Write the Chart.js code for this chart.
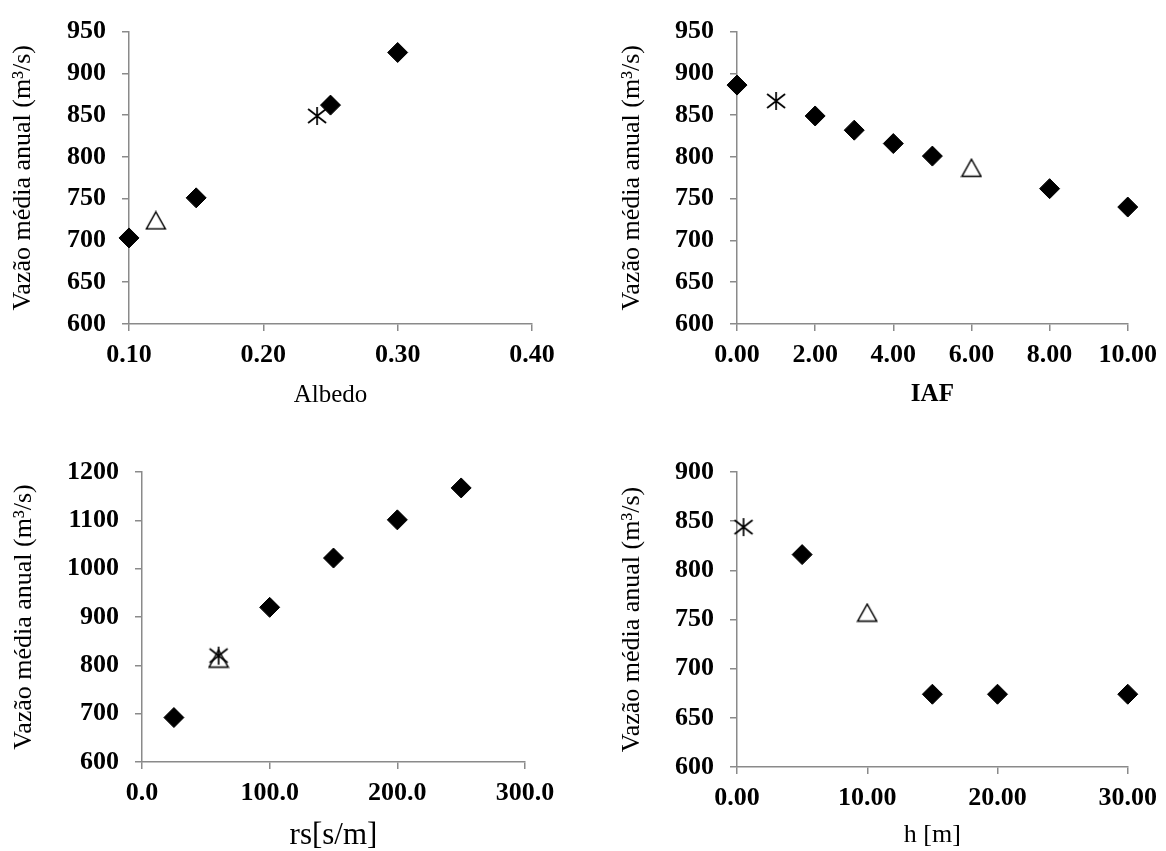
<!DOCTYPE html>
<html lang="pt">
<head>
  <meta charset="UTF-8">
  <title>Vazão média anual - sensibilidade dos parâmetros</title>
  <script src="https://cdn.jsdelivr.net/npm/chart.js@4.4.1/dist/chart.umd.min.js"></script>
  <style>
    body { margin: 0; padding: 0; overflow: hidden; background: #fff; }
    .cell { position: absolute; width: 583px; }
  </style>
</head>
<body>

  <div class="cell" style="left:0; top:0; height:425px;"><canvas id="albedo" width="583" height="425"></canvas></div>
  <div class="cell" style="left:583px; top:0; height:425px;"><canvas id="iaf" width="583" height="425"></canvas></div>
  <div class="cell" style="left:0; top:425px; height:426px;"><canvas id="rs" width="583" height="426"></canvas></div>
  <div class="cell" style="left:583px; top:425px; height:426px;"><canvas id="h" width="583" height="426"></canvas></div>

  <script>
    const FONT = "'Liberation Serif', 'Times New Roman', serif";
    const AXIS = '#8a8a8a';
    const yTitle = 'Vazão média anual (m³/s)';

    // Albedo
    const albedoX = [0.10, 0.15, 0.25, 0.30];
    const albedoY = [703, 751, 862, 925];
    const albedoStarX = [0.24];
    const albedoStarY = [849];
    const albedoTriX = [0.12];
    const albedoTriY = [724];
    const albedoTicksX = [0.10, 0.20, 0.30, 0.40];
    const albedoTicksY = [600, 650, 700, 750, 800, 850, 900, 950];

    // IAF
    const iafX = [0, 2, 3, 4, 5, 8, 10];
    const iafY = [886, 849, 832, 816, 801, 762, 740];
    const iafStarX = [1];
    const iafStarY = [867];
    const iafTriX = [6];
    const iafTriY = [787];
    const iafTicksX = [0, 2, 4, 6, 8, 10];
    const iafTicksY = [600, 650, 700, 750, 800, 850, 900, 950];

    // rs
    const rsX = [25, 100, 150, 200, 250];
    const rsY = [692, 920, 1022, 1101, 1167];
    const rsStarX = [60];
    const rsStarY = [820];
    const rsTriX = [60];
    const rsTriY = [814];
    const rsTicksX = [0, 100, 200, 300];
    const rsTicksY = [600, 700, 800, 900, 1000, 1100, 1200];

    // h
    const hX = [5, 15, 20, 30];
    const hY = [816, 674, 674, 674];
    const hStarX = [0.5];
    const hStarY = [844];
    const hTriX = [10];
    const hTriY = [757];
    const hTicksX = [0, 10, 20, 30];
    const hTicksY = [600, 650, 700, 750, 800, 850, 900];

    function pts(xs, ys) {
      return xs.map((x, i) => ({ x: x, y: ys[i] }));
    }

    // asterisk marker: X with a vertical bar
    function asterisk() {
      const c = document.createElement('canvas');
      c.width = 22; c.height = 20;
      const g = c.getContext('2d');
      g.strokeStyle = '#000';
      g.lineWidth = 1.7;
      g.beginPath();
      g.moveTo(11, 1); g.lineTo(11, 19);
      g.moveTo(2, 3); g.lineTo(20, 17);
      g.moveTo(2, 17); g.lineTo(20, 3);
      g.stroke();
      return c;
    }

    // open triangle, centred on its box
    function triangle() {
      const c = document.createElement('canvas');
      c.width = 22; c.height = 20;
      const g = c.getContext('2d');
      g.fillStyle = '#fff';
      g.strokeStyle = '#000';
      g.lineWidth = 1.5;
      g.beginPath();
      g.moveTo(11, 1.5); g.lineTo(20.5, 18.5); g.lineTo(1.5, 18.5); g.closePath();
      g.fill(); g.stroke();
      return c;
    }

    function scatter(id, p) {
      new Chart(document.getElementById(id), {
        type: 'scatter',
        data: {
          datasets: [
            { data: pts(p.x, p.y), clip: false, pointStyle: 'rectRot', pointRadius: 10, pointBackgroundColor: '#000', pointBorderColor: '#000', pointBorderWidth: 1 },
            { data: pts(p.sx, p.sy), clip: false, pointStyle: asterisk(), pointRadius: 10 },
            { data: pts(p.tx, p.ty), clip: false, pointStyle: triangle(), pointRadius: 10 }
          ]
        },
        options: {
          responsive: false,
          animation: false,
          events: [],
          layout: { padding: { left: 0, top: p.top, right: 583 - p.right, bottom: 0 } },
          plugins: { legend: { display: false }, tooltip: { enabled: false } },
          scales: {
            x: {
              type: 'linear',
              min: p.xt[0],
              max: p.xt[p.xt.length - 1],
              afterBuildTicks: s => { s.ticks = p.xt.map(v => ({ value: v })); },
              afterFit: s => { s.height = p.h - p.bottom; },
              ticks: {
                color: '#000', padding: 9, maxRotation: 0, autoSkip: false,
                font: { family: FONT, size: 26, weight: 'bold' },
                callback: v => v.toFixed(p.xd)
              },
              grid: { drawOnChartArea: false, drawTicks: true, tickLength: 7, color: AXIS, lineWidth: 1.5 },
              border: { color: AXIS, width: 1.5 },
              title: {
                display: true, text: p.xTitle, color: '#000',
                font: { family: FONT, size: p.xSize, weight: p.xWeight, lineHeight: p.xLh },
                padding: { top: 0, bottom: p.xPad }
              }
            },
            y: {
              type: 'linear',
              min: p.yt[0],
              max: p.yt[p.yt.length - 1],
              afterBuildTicks: s => { s.ticks = p.yt.map(v => ({ value: v })); },
              afterFit: s => { s.width = p.left; },
              ticks: {
                color: '#000', padding: 16, autoSkip: false,
                font: { family: FONT, size: 26, weight: 'bold' },
                callback: v => String(v)
              },
              grid: { drawOnChartArea: false, drawTicks: true, tickLength: 7, color: AXIS, lineWidth: 1.5 },
              border: { color: AXIS, width: 1.5 },
              title: {
                display: true, text: yTitle, color: '#000',
                font: { family: FONT, size: 26 },
                padding: { top: p.yPad, bottom: 0 }
              }
            }
          }
        }
      });
    }

    scatter('albedo', {
      x: albedoX, y: albedoY, sx: albedoStarX, sy: albedoStarY, tx: albedoTriX, ty: albedoTriY,
      xt: albedoTicksX, yt: albedoTicksY, xd: 2,
      h: 425, left: 129, right: 532, top: 27, bottom: 324, yPad: 8,
      xTitle: 'Albedo', xSize: 25, xWeight: 'normal', xLh: 1.2, xPad: 15
    });

    scatter('iaf', {
      x: iafX, y: iafY, sx: iafStarX, sy: iafStarY, tx: iafTriX, ty: iafTriY,
      xt: iafTicksX, yt: iafTicksY, xd: 2,
      h: 425, left: 154, right: 549, top: 27, bottom: 324, yPad: 34,
      xTitle: 'IAF', xSize: 25, xWeight: 'bold', xLh: 1.2, xPad: 15
    });

    scatter('rs', {
      x: rsX, y: rsY, sx: rsStarX, sy: rsStarY, tx: rsTriX, ty: rsTriY,
      xt: rsTicksX, yt: rsTicksY, xd: 1,
      h: 426, left: 142, right: 525, top: 47, bottom: 337, yPad: 9,
      xTitle: 'rs[s/m]', xSize: 31, xWeight: 'normal', xLh: 1, xPad: 0
    });

    scatter('h', {
      x: hX, y: hY, sx: hStarX, sy: hStarY, tx: hTriX, ty: hTriY,
      xt: hTicksX, yt: hTicksY, xd: 2,
      h: 426, left: 154, right: 549, top: 47, bottom: 342, yPad: 34,
      xTitle: 'h [m]', xSize: 26, xWeight: 'normal', xLh: 1.2, xPad: 0
    });
  </script>
</body>
</html>
